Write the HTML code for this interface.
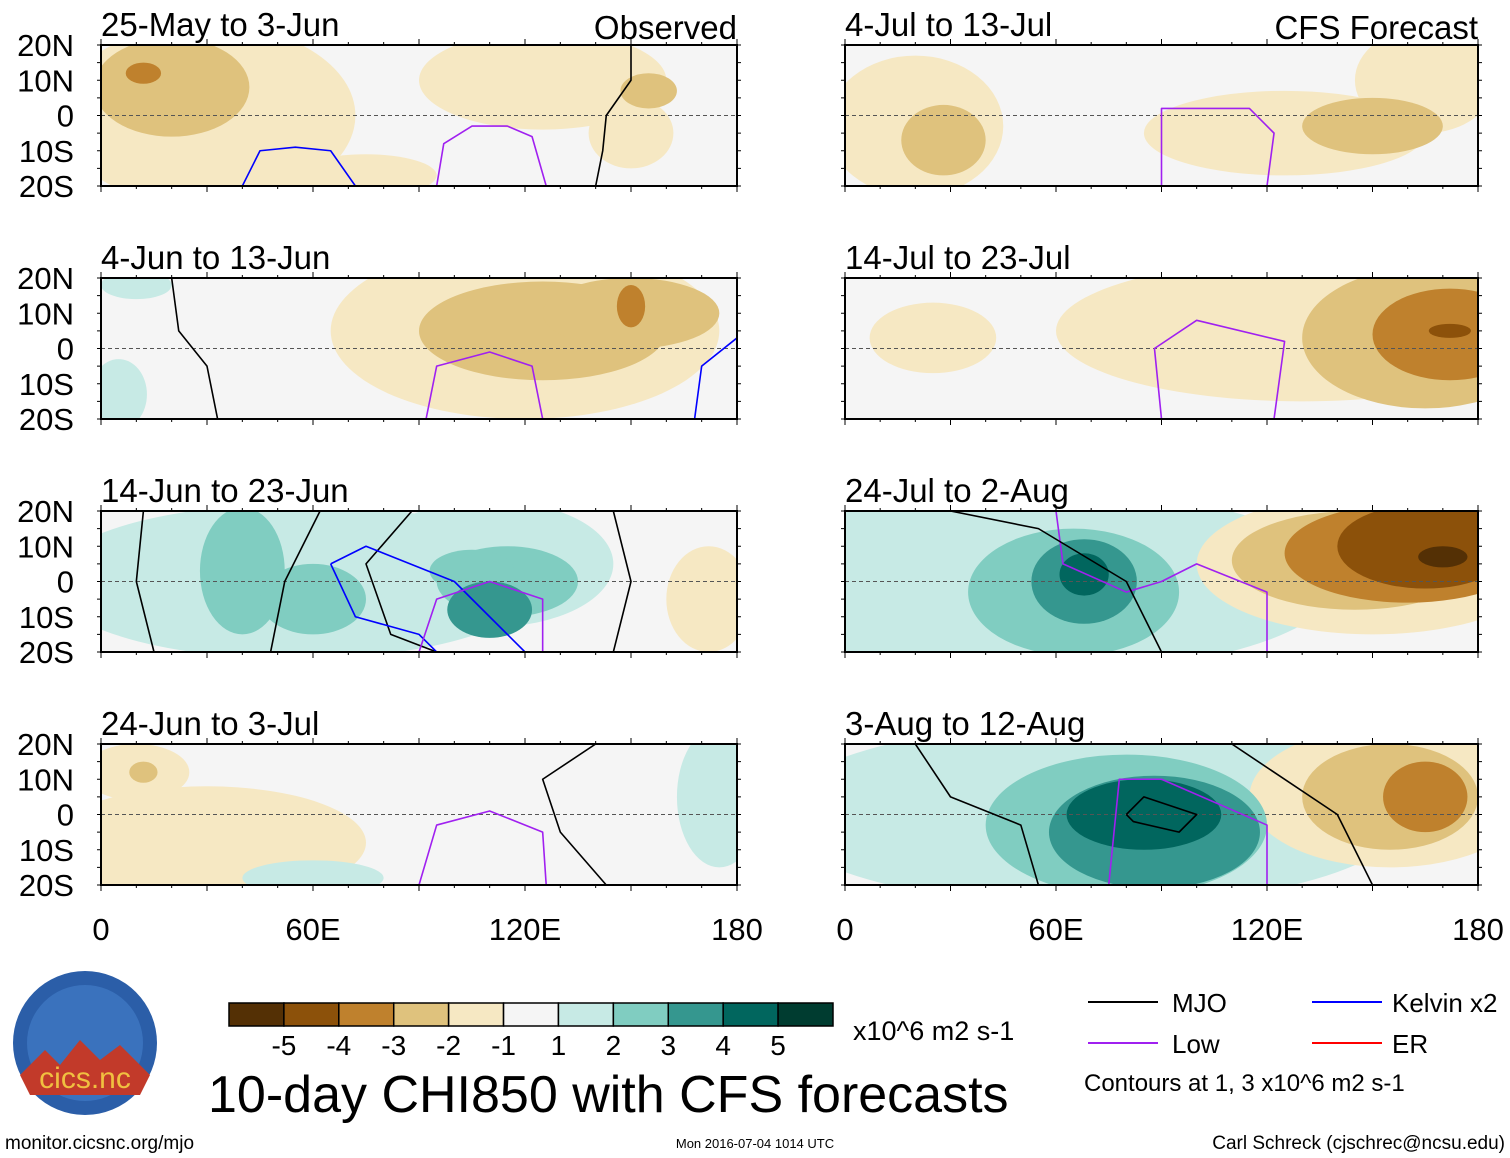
<!DOCTYPE html>
<html><head><meta charset="utf-8"><style>
body{margin:0;background:#fff;}
svg{display:block;font-family:"Liberation Sans",sans-serif;}
</style></head><body>
<svg id="chart" width="1510" height="1158" viewBox="0 0 1510 1158" xmlns="http://www.w3.org/2000/svg">
<g id="panels"></g>
<g id="colorbar"></g>
<g>
<circle cx="85" cy="1043" r="72" fill="#2b5ea8"/>
<circle cx="85" cy="1043" r="58" fill="#3a72bd"/>
<path d="M20,1075 L45,1050 L60,1065 L80,1040 L100,1060 L120,1045 L150,1075 L140,1095 L30,1095 Z" fill="#c23a2a"/>
<text x="85" y="1088" text-anchor="middle" font-size="30" fill="#f0c040">cics.nc</text>
</g>
<text x="208" y="1112" font-size="52">10-day CHI850 with CFS forecasts</text>
<text x="853" y="1040" font-size="27">x10^6 m2 s-1</text>
<g>
<line x1="1088" y1="1002" x2="1158" y2="1002" stroke="#000" stroke-width="2"/><text x="1172" y="1012" font-size="26">MJO</text>
<line x1="1088" y1="1043" x2="1158" y2="1043" stroke="#a020f0" stroke-width="2"/><text x="1172" y="1053" font-size="26">Low</text>
<line x1="1312" y1="1002" x2="1382" y2="1002" stroke="#0000ff" stroke-width="2"/><text x="1392" y="1012" font-size="26">Kelvin x2</text>
<line x1="1312" y1="1043" x2="1382" y2="1043" stroke="#ff0000" stroke-width="2"/><text x="1392" y="1053" font-size="26">ER</text>
<text x="1084" y="1091" font-size="24">Contours at 1, 3 x10^6 m2 s-1</text>
</g>
<text x="5" y="1149" font-size="19">monitor.cicsnc.org/mjo</text>
<text x="755" y="1148" font-size="13" text-anchor="middle">Mon 2016-07-04 1014 UTC</text>
<text x="1505" y="1149" font-size="19" text-anchor="end">Carl Schreck (cjschrec@ncsu.edu)</text>
</svg>
<script>
const levelLabels=["-5","-4","-3","-2","-1","1","2","3","4","5"];
const levelColors=["#543005","#8c510a","#bf812d","#dfc27d","#f6e8c3","#f5f5f5","#c7eae5","#80cdc1","#35978f","#01665e","#003c30"];
const panelTitles=["25-May to 3-Jun","4-Jun to 13-Jun","14-Jun to 23-Jun","24-Jun to 3-Jul","4-Jul to 13-Jul","14-Jul to 23-Jul","24-Jul to 2-Aug","3-Aug to 12-Aug"];
const latTicks=[20,10,0,-10,-20];
const latLabels=["20N","10N","0","10S","20S"];
const lonTicks=[0,60,120,180];
const lonLabels=["0","60E","120E","180"];
// blobs per panel: [lon, lat, rxDeg, ryDeg, level]
const blobs1=[[30,0,42,26,-1],[125,10,35,14,-1],[75,-17,20,6,-1],[150,-5,12,10,-1],[20,8,22,14,-2],[155,7,8,5,-2],[12,12,5,3,-3]];
const blobs2=[[120,5,55,25,-1],[125,5,35,14,-2],[150,10,25,10,-2],[150,12,4,6,-3],[5,-13,8,10,1],[10,18,10,4,1]];
const blobs3=[[55,0,70,22,1],[110,5,35,18,1],[172,-5,12,15,-1],[40,3,12,18,2],[60,-5,15,10,2],[115,0,20,10,2],[105,3,12,6,2],[110,-8,12,8,3]];
const blobs4=[[30,-8,45,16,-1],[10,12,15,8,-1],[12,12,4,3,-2],[175,5,12,20,1],[60,-18,20,5,1]];
const blobs5=[[20,-3,25,20,-1],[125,-5,40,12,-1],[165,10,20,15,-1],[28,-7,12,10,-2],[150,-3,20,8,-2]];
const blobs6=[[130,5,70,20,-1],[25,3,18,10,-1],[165,3,35,20,-2],[172,4,22,13,-3],[172,5,6,2,-4]];
const blobs7=[[55,0,85,26,1],[65,-3,30,18,2],[68,0,15,12,3],[68,2,7,6,4],[150,5,50,20,-1],[145,6,35,14,-2],[160,8,35,14,-3],[165,10,25,12,-4],[170,7,7,3,-5]];
const blobs8=[[70,0,90,26,1],[80,-3,40,20,2],[88,-5,30,16,3],[85,0,22,10,4],[155,5,40,20,-1],[155,5,25,15,-2],[165,5,12,10,-3]];
// contour lines: [color, [lon,lat,...]]
const lines1=[["#00f",[40,-20,45,-10,55,-9,65,-10,72,-20]],["#a020f0",[95,-20,97,-8,105,-3,115,-3,122,-6,126,-20]],["#000",[150,20,150,10,143,0,142,-10,140,-20]]];
const lines2=[["#000",[20,20,22,5,30,-5,33,-20]],["#a020f0",[92,-20,95,-5,110,-1,122,-5,125,-20]],["#00f",[180,3,170,-5,168,-20]]];
const lines3=[["#000",[12,20,10,0,15,-20]],["#000",[62,20,52,0,48,-20]],["#000",[88,20,75,5,82,-15,95,-20]],["#000",[145,20,150,0,145,-20]],["#00f",[65,5,75,10,100,0,110,-10,120,-20]],["#00f",[65,5,72,-10,90,-15,95,-20]],["#a020f0",[90,-20,95,-5,110,0,125,-5,125,-20]]];
const lines4=[["#a020f0",[90,-20,95,-3,110,1,125,-5,126,-20]],["#000",[140,20,125,10,130,-5,143,-20]]];
const lines5=[["#a020f0",[90,-20,90,2,115,2,122,-5,120,-20]]];
const lines6=[["#a020f0",[90,-20,88,0,100,8,125,2,122,-20]]];
const lines7=[["#a020f0",[60,20,62,5,80,-3,90,0,100,5,120,-3,120,-20]],["#000",[30,20,55,15,80,0,90,-20]]];
const lines8=[["#000",[20,20,30,5,50,-3,55,-20]],["#000",[80,0,85,5,100,0,95,-5,82,-2,80,0]],["#000",[110,20,140,0,150,-20]],["#a020f0",[75,-20,78,10,90,10,120,-3,120,-20]]];
const allBlobs=[blobs1,blobs2,blobs3,blobs4,blobs5,blobs6,blobs7,blobs8];
const allLines=[lines1,lines2,lines3,lines4,lines5,lines6,lines7,lines8];

const NS="http://www.w3.org/2000/svg";
function mk(t,a,p){const e=document.createElementNS(NS,t);for(const k in a)e.setAttribute(k,a[k]);p.appendChild(e);return e;}
function colorFor(l){return levelColors[l+5];}
const G=document.getElementById('panels');
const rowsY=[45,278,511,744],H=141;
for(let p=0;p<8;p++){
  const left=p<4,x0=left?101:845,W=left?636:633,y0=rowsY[p%4];
  const xs=lon=>x0+lon/180*W, ys=lat=>y0+(20-lat)/40*H;
  const g=mk('g',{},G);
  
  
  const cp=mk('clipPath',{id:'cp'+p},g);mk('rect',{x:x0,y:y0,width:W,height:H},cp);
  const inner=mk('g',{'clip-path':'url(#cp'+p+')'},g);
  mk('rect',{x:x0,y:y0,width:W,height:H,fill:'#f5f5f5'},inner);
  const b=allBlobs[p].slice().sort((a,c)=>Math.abs(a[4])-Math.abs(c[4]));
  b.forEach(d=>{const e=mk('ellipse',{cx:xs(d[0]),cy:ys(d[1]),rx:d[2]/180*W,ry:d[3]/40*H,fill:colorFor(d[4])},inner);
    
    });
  mk('line',{x1:x0,y1:ys(0),x2:x0+W,y2:ys(0),stroke:'#555','stroke-dasharray':'4,3','stroke-width':1},inner);
  allLines[p].forEach(l=>{const pts=[];for(let i=0;i<l[1].length;i+=2)pts.push(xs(l[1][i])+','+ys(l[1][i+1]));
    const e=mk('polyline',{points:pts.join(' '),fill:'none',stroke:l[0],'stroke-width':1.6,'stroke-linejoin':'round'},inner);
    
    });
  mk('rect',{x:x0,y:y0,width:W,height:H,fill:'none',stroke:'#000','stroke-width':2},g);
  for(let lon=0;lon<=180;lon+=10){const x=xs(lon),len=lon%30==0?6:3;
    mk('line',{x1:x,y1:y0,x2:x,y2:y0-len,stroke:'#000'},g);mk('line',{x1:x,y1:y0+H,x2:x,y2:y0+H+len,stroke:'#000'},g);}
  for(let lat=-20;lat<=20;lat+=5){const y=ys(lat);
    mk('line',{x1:x0,y1:y,x2:x0-4,y2:y,stroke:'#000'},g);mk('line',{x1:x0+W,y1:y,x2:x0+W+4,y2:y,stroke:'#000'},g);}
  const t=mk('text',{x:x0,y:y0-9,'font-size':33},g);t.textContent=panelTitles[p];
  
  
  if(left){latTicks.forEach((lat,i)=>{const e=mk('text',{x:74,y:ys(lat)+11,'font-size':31,'text-anchor':'end'},g);e.textContent=latLabels[i];
    
    });}
  if(p==0){const e=mk('text',{x:x0+W,y:y0-6,'font-size':33,'text-anchor':'end'},g);e.textContent='Observed';}
  if(p==4){const e=mk('text',{x:x0+W,y:y0-6,'font-size':33,'text-anchor':'end'},g);e.textContent='CFS Forecast';}
  if(p%4==3){lonTicks.forEach((lon,i)=>{const e=mk('text',{x:xs(lon),y:940,'font-size':31,'text-anchor':'middle'},g);e.textContent=lonLabels[i];
    
    });}
}
const CB=document.getElementById('colorbar');
const cbx=229,cbw=604/11;
levelColors.forEach((c,i)=>{const r=mk('rect',{x:cbx+i*cbw,y:1003,width:cbw,height:23,fill:c,stroke:'#000','stroke-width':1.5},CB);
  
  });
levelLabels.forEach((l,i)=>{const t=mk('text',{x:cbx+(i+1)*cbw,y:1055,'font-size':28,'text-anchor':'middle'},CB);t.textContent=l;
  
  });
</script>
</body></html>
